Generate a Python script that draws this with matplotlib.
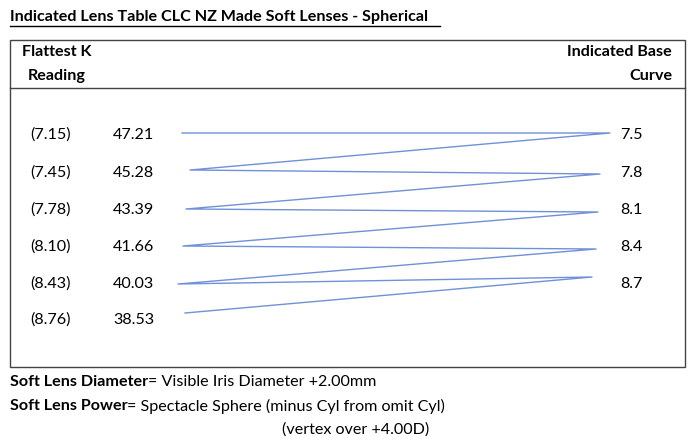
import matplotlib.pyplot as plt
from matplotlib.lines import Line2D

plt.rcParams['font.family'] = ['Lato', 'DejaVu Sans']

k_radius = ['(7.15)', '(7.45)', '(7.78)', '(8.10)', '(8.43)', '(8.76)']
k_dioptre = ['47.21', '45.28', '43.39', '41.66', '40.03', '38.53']
base_curve = ['7.5', '7.8', '8.1', '8.4', '8.7']

row_y = [135, 173, 210, 247, 284, 320]
# zigzag path, pixel positions
path_x = [182, 610, 190, 600, 186, 598, 183, 596, 178, 592, 185]
path_y = [133, 133, 170, 174, 209, 212, 246, 249, 284, 277, 313]

W, H = 700, 445
fig = plt.figure(figsize=(W / 100, H / 100), dpi=100)
ax = fig.add_axes([0, 0, 1, 1])
ax.set_xlim(0, W)
ax.set_ylim(H, 0)
ax.axis('off')
fs = 11.6

ax.text(10, 17, 'Indicated Lens Table CLC NZ Made Soft Lenses - Spherical',
        fontsize=fs, fontweight='bold', va='center')
ax.add_line(Line2D([10, 440], [26, 26], color='black', lw=1))

ax.add_patch(plt.Rectangle((10, 40), 675, 327, fill=False, ec='#444444', lw=1))
ax.add_line(Line2D([10, 685], [88, 88], color='#444444', lw=1))

ax.text(57, 52, 'Flattest K', fontsize=fs, fontweight='bold', ha='center', va='center')
ax.text(57, 76, 'Reading', fontsize=fs, fontweight='bold', ha='center', va='center')
ax.text(672, 52, 'Indicated Base', fontsize=fs, fontweight='bold', ha='right', va='center')
ax.text(672, 76, 'Curve', fontsize=fs, fontweight='bold', ha='right', va='center')

for r, d, y in zip(k_radius, k_dioptre, row_y):
    ax.text(30, y, r, fontsize=fs, va='center')
    ax.text(113, y, d, fontsize=fs, va='center')
for b, y in zip(base_curve, row_y):
    ax.text(620, y, b, fontsize=fs, va='center')

ax.plot(path_x, path_y, color='#7090d8', lw=1)

ax.text(10, 382, 'Soft Lens Diameter', fontsize=fs, fontweight='bold', va='center')
ax.text(148, 382, '= Visible Iris Diameter +2.00mm', fontsize=fs, va='center')
ax.text(10, 406, 'Soft Lens Power', fontsize=fs, fontweight='bold', va='center')
ax.text(127, 406, '= Spectacle Sphere (minus Cyl from omit Cyl)', fontsize=fs, va='center')
ax.text(282, 430, '(vertex over +4.00D)', fontsize=fs, va='center')

fig.savefig('out.png', dpi=100)
